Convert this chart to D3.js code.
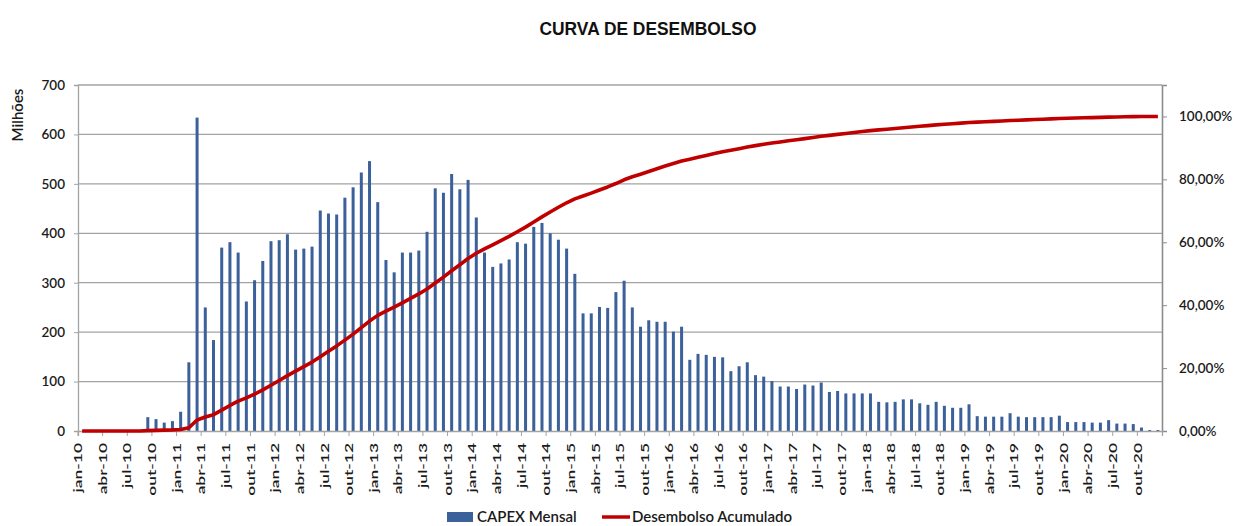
<!DOCTYPE html>
<html>
<head>
<meta charset="utf-8">
<script src="https://cdn.jsdelivr.net/npm/d3@7"></script>
<style>
  html, body { margin: 0; padding: 0; background: #fff; }
  svg { display: block; }
  text { font-family: Lato, "Open Sans", "Liberation Sans", sans-serif; }
  text.title { font-family: "Liberation Sans Narrow", "Liberation Sans", Arial, sans-serif; }
</style>
</head>
<body>
<svg id="chart" width="1237" height="526"></svg>
<script>
// ---------- DATA ----------
const title = "CURVA DE DESEMBOLSO";
const leftAxisTitle = "Milhões";
const seriesNames = ["CAPEX Mensal", "Desembolso Acumulado"];
const monthNames = ["jan","fev","mar","abr","mai","jun","jul","ago","set","out","nov","dez"];
const years = ["10","11","12","13","14","15","16","17","18","19","20"];
const leftTicks = [0, 100, 200, 300, 400, 500, 600, 700];
const rightTicks = [0, 0.2, 0.4, 0.6, 0.8, 1.0];

// CAPEX mensal (milhões), one array per year, jan..dez
const capex2010 = [0, 0, 0, 0, 0, 0, 0, 0, 28, 24, 17, 20];
const capex2011 = [39, 139, 634, 250, 184, 371, 382, 361, 262, 305, 344, 384];
const capex2012 = [386, 398, 367, 369, 373, 446, 440, 438, 472, 493, 523, 546];
const capex2013 = [463, 346, 321, 361, 361, 365, 403, 491, 482, 520, 489, 508];
const capex2014 = [432, 361, 332, 339, 347, 382, 379, 413, 421, 400, 387, 369];
const capex2015 = [318, 238, 238, 251, 249, 281, 304, 250, 211, 224, 221, 221];
const capex2016 = [201, 211, 144, 156, 154, 150, 149, 121, 131, 139, 113, 110];
const capex2017 = [101, 90, 90, 85, 94, 92, 98, 79, 81, 76, 76, 76];
const capex2018 = [76, 59, 58, 59, 64, 64, 56, 53, 59, 51, 47, 47];
const capex2019 = [54, 30, 29, 29, 29, 36, 29, 28, 28, 28, 28, 31];
const capex2020 = [18, 18, 18, 17, 17, 22, 15, 15, 14, 7, 2, 2];

// Desembolso acumulado (%), one array per year, jan..dez
const acum2010 = [0, 0, 0, 0, 0, 0, 0, 0, 0.11, 0.20, 0.27, 0.35];
const acum2011 = [0.50, 1.04, 3.50, 4.47, 5.19, 6.63, 8.12, 9.52, 10.54, 11.72, 13.06, 14.55];
const acum2012 = [16.05, 17.60, 19.03, 20.46, 21.91, 23.64, 25.35, 27.06, 28.89, 30.81, 32.84, 34.96];
const acum2013 = [36.76, 38.11, 39.36, 40.76, 42.16, 43.58, 45.15, 47.06, 48.93, 50.95, 52.85, 54.83];
const acum2014 = [56.50, 57.91, 59.20, 60.52, 61.87, 63.35, 64.82, 66.43, 68.07, 69.62, 71.12, 72.56];
const acum2015 = [73.79, 74.72, 75.64, 76.62, 77.59, 78.68, 79.86, 80.83, 81.65, 82.52, 83.38, 84.24];
const acum2016 = [85.02, 85.84, 86.40, 87.01, 87.61, 88.19, 88.77, 89.24, 89.75, 90.29, 90.73, 91.16];
const acum2017 = [91.55, 91.90, 92.25, 92.58, 92.95, 93.30, 93.68, 93.99, 94.31, 94.60, 94.90, 95.19];
const acum2018 = [95.49, 95.72, 95.94, 96.17, 96.42, 96.67, 96.89, 97.09, 97.32, 97.52, 97.70, 97.89];
const acum2019 = [98.10, 98.21, 98.32, 98.44, 98.55, 98.69, 98.80, 98.91, 99.02, 99.13, 99.24, 99.36];
const acum2020 = [99.43, 99.50, 99.57, 99.63, 99.70, 99.79, 99.84, 99.90, 99.96, 99.98, 99.99, 100.00];

// ---------- BUILD ----------
const months = years.flatMap(y => monthNames.map(m => `${m}-${y}`));
const capex = [].concat(capex2010, capex2011, capex2012, capex2013, capex2014, capex2015,
                        capex2016, capex2017, capex2018, capex2019, capex2020);
const acum = [].concat(acum2010, acum2011, acum2012, acum2013, acum2014, acum2015,
                       acum2016, acum2017, acum2018, acum2019, acum2020);
const data = months.map((m, i) => ({ month: m, capex: capex[i], acum: acum[i] / 100 }));
const labelMonths = months.filter((m, i) => i % 3 === 0);

const svg = d3.select("#chart");
const L = 78, R = 1162, T = 85, B = 431;

const x = d3.scaleBand().domain(months).range([L, R]).padding(0);
const yL = d3.scaleLinear().domain([0, 700]).range([B, T]);
const yR = d3.scaleLinear().domain([0, 1.1]).range([B, T]);

const gridColor = "#a3a3a3";
const textColor = "#1a1a1a";
const barColor = "#3b609a";

// gridlines
svg.append("g")
  .selectAll("line")
  .data(leftTicks.filter(d => d > 0))
  .join("line")
  .attr("x1", L).attr("x2", R)
  .attr("y1", d => yL(d)).attr("y2", d => yL(d))
  .attr("stroke", gridColor).attr("stroke-width", 1.3);

// left axis
const leftAxis = d3.axisLeft(yL).tickValues(leftTicks).tickSize(4).tickPadding(9);
const gL = svg.append("g").attr("transform", `translate(${L},0)`).call(leftAxis);
gL.select(".domain").attr("stroke", gridColor).attr("stroke-width", 1.3);
gL.selectAll(".tick line").attr("stroke", gridColor);
gL.selectAll(".tick text").attr("font-size", 13.5).attr("fill", textColor)
  .style("font-family", "Lato, sans-serif").attr("font-weight", 600);

// right axis
const pctFmt = d => (d * 100).toFixed(2).replace(".", ",") + "%";
const rightAxis = d3.axisRight(yR).tickValues(rightTicks).tickFormat(pctFmt).tickSize(5).tickPadding(12);
const gR = svg.append("g").attr("transform", `translate(${R},0)`).call(rightAxis);
gR.select(".domain").attr("stroke", "#8c8c8c").attr("stroke-width", 1.6);
gR.selectAll(".tick line").attr("stroke", "#8c8c8c");
gR.selectAll(".tick text").attr("font-size", 13.5).attr("fill", textColor)
  .style("font-family", "Lato, sans-serif").attr("font-weight", 600);

// bars
const barW = 3;
svg.append("g")
  .selectAll("rect")
  .data(data)
  .join("rect")
  .attr("x", d => x(d.month) + x.bandwidth() / 2 - barW / 2)
  .attr("y", d => yL(d.capex))
  .attr("width", barW)
  .attr("height", d => yL(0) - yL(d.capex))
  .attr("fill", barColor);

// bottom axis
const bottomAxis = d3.axisBottom(x).tickValues(labelMonths).tickSize(5).tickPadding(0).tickFormat(d => d);
const gB = svg.append("g").attr("transform", `translate(0,${B})`).call(bottomAxis);
gB.select(".domain").attr("stroke", gridColor).attr("stroke-width", 1.3);
gB.selectAll(".tick").attr("transform", d => `translate(${x(d)},0)`);
gB.selectAll(".tick line").attr("stroke", gridColor);
gB.selectAll(".tick text")
  .attr("font-size", 12).attr("fill", textColor)
  .style("font-family", "Lato, sans-serif").attr("font-weight", 600)
  .attr("text-anchor", "end")
  .attr("dy", "0.35em")
  .attr("y", 0)
  .attr("transform", "translate(0,12) rotate(-90) scale(1.45,1)");

// cumulative line
const line = d3.line()
  .x(d => x(d.month) + x.bandwidth() / 2)
  .y(d => yR(d.acum));
svg.append("path")
  .datum(data)
  .attr("d", line)
  .attr("fill", "none")
  .attr("stroke", "#c00000")
  .attr("stroke-width", 3.6)
  .attr("stroke-linejoin", "round");

// title
svg.append("text")
  .attr("class", "title")
  .attr("x", 648).attr("y", 35)
  .attr("text-anchor", "middle")
  .attr("font-weight", "bold")
  .attr("font-size", 19)
  .attr("textLength", 217)
  .attr("lengthAdjust", "spacingAndGlyphs")
  .attr("fill", "#111")
  .text(title);

// left axis title
svg.append("text")
  .attr("transform", "translate(23,115) rotate(-90)")
  .attr("text-anchor", "middle")
  .attr("font-size", 15)
  .attr("font-weight", 600)
  .attr("fill", textColor)
  .text(leftAxisTitle);

// legend
const lg = svg.append("g");
lg.append("rect").attr("x", 447).attr("y", 512).attr("width", 26).attr("height", 10).attr("fill", barColor);
lg.append("text").attr("x", 477).attr("y", 522).attr("font-size", 15).attr("font-weight", 600)
  .attr("fill", textColor).text(seriesNames[0]);
lg.append("line").attr("x1", 602).attr("x2", 630).attr("y1", 517).attr("y2", 517)
  .attr("stroke", "#c00000").attr("stroke-width", 3.5);
lg.append("text").attr("x", 632).attr("y", 522).attr("font-size", 15).attr("font-weight", 600)
  .attr("fill", textColor).text(seriesNames[1]);
</script>
</body>
</html>
